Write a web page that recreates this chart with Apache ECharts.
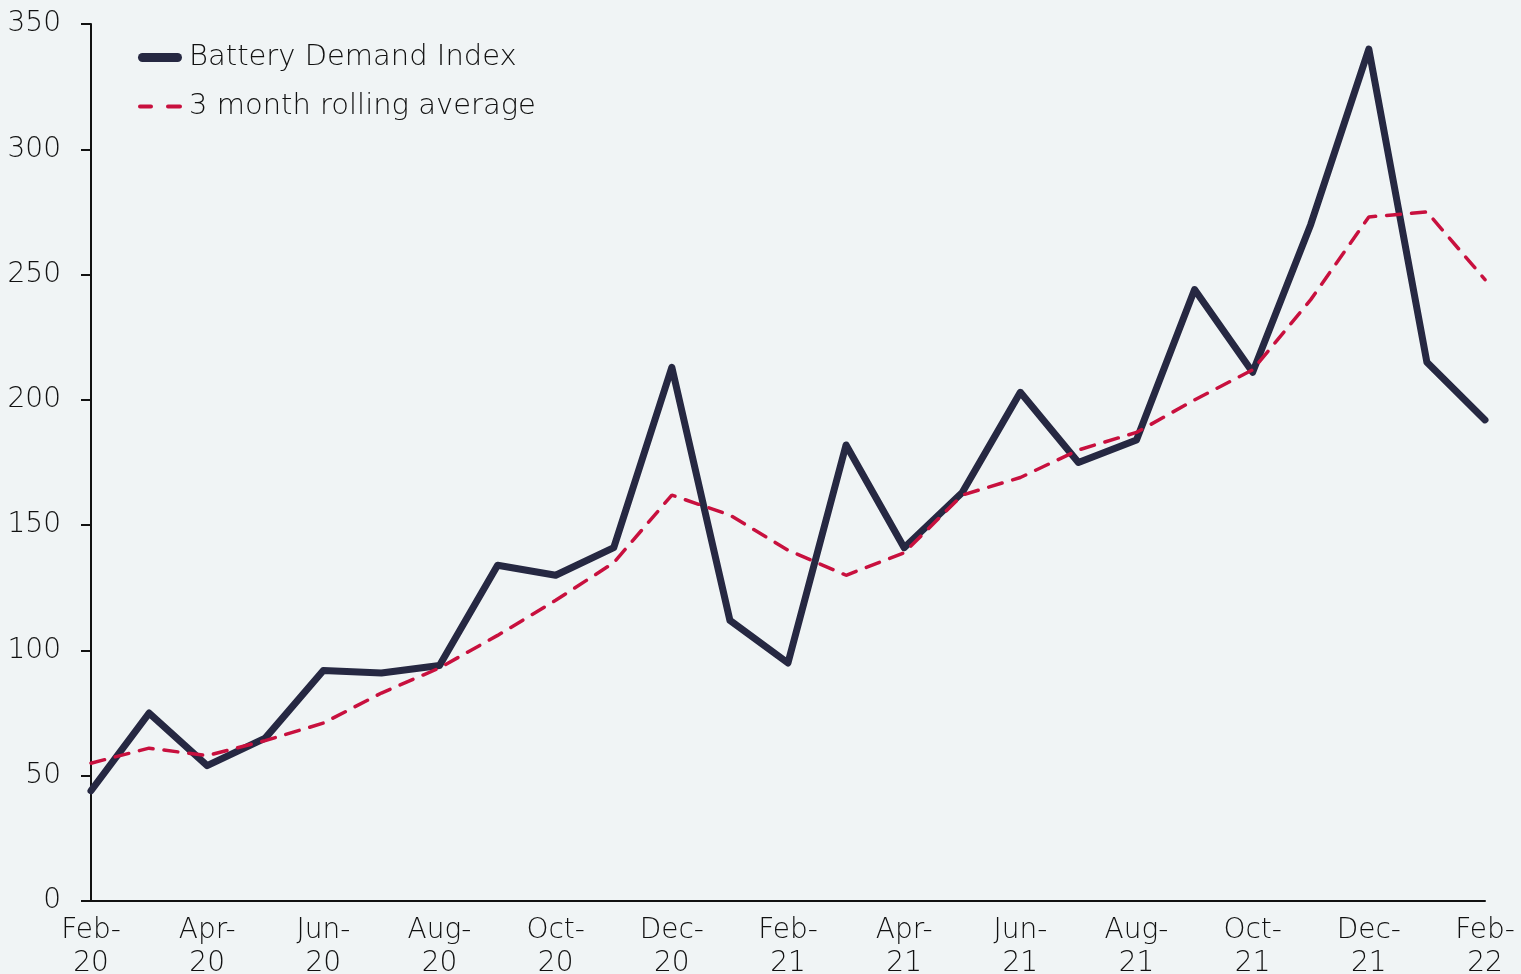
<!DOCTYPE html>
<html>
<head>
<meta charset="utf-8">
<script src="https://cdn.jsdelivr.net/npm/echarts@6/dist/echarts.min.js"></script>
<style>
  html, body { margin: 0; padding: 0; background: #f0f4f5; }
  #chart { width: 1521px; height: 974px; }
</style>
</head>
<body>
<div id="chart"></div>
<script>
const months = [
  "Feb-20", "Mar-20", "Apr-20", "May-20", "Jun-20", "Jul-20", "Aug-20", "Sep-20", "Oct-20",
  "Nov-20", "Dec-20", "Jan-21", "Feb-21", "Mar-21", "Apr-21", "May-21", "Jun-21", "Jul-21",
  "Aug-21", "Sep-21", "Oct-21", "Nov-21", "Dec-21", "Jan-22", "Feb-22"
];
// Battery Demand Index
const demandIndex = [44, 75, 54, 65, 92, 91, 94, 134, 130, 141, 213, 112, 95, 182, 141, 163, 203, 175, 184, 244, 211, 270, 340, 215, 192];
// 3 month rolling average
const rollingAvg = [55, 61, 58, 64, 71, 83, 93, 106, 120, 135, 162, 154, 140, 130, 139, 162, 169, 180, 187, 200, 212, 240, 273, 275, 248];

const font = "DejaVu Sans";
const textColor = "#111";
const navy = "#262842";
const red = "#c8103e";

const chart = echarts.init(document.getElementById("chart"));
chart.setOption({
  backgroundColor: "#f0f4f5",
  animation: false,
  textStyle: { fontFamily: font },
  grid: { left: 91, right: 36, top: 24, bottom: 73, outerBoundsMode: "none", containLabel: false },
  legend: {
    orient: "vertical",
    left: 133,
    top: 38,
    itemWidth: 44,
    itemHeight: 9,
    itemGap: 20,
    textStyle: { fontSize: 29, color: textColor, fontWeight: 200, fontFamily: font, padding: [0, 0, 0, 2] },
    data: [
      {
        name: "Battery Demand Index",
        icon: "path://M4.5,0H39.5A4.5,4.5,0,0,1,39.5,9H4.5A4.5,4.5,0,0,1,4.5,0Z",
        itemStyle: { color: navy }
      },
      {
        name: "3 month rolling average",
        icon: "path://M2,2.5H13A2,2,0,0,1,13,6.5H2A2,2,0,0,1,2,2.5Z M30,2.5H42A2,2,0,0,1,42,6.5H30A2,2,0,0,1,30,2.5Z M0,0H0.01V0.01H0Z M43.99,8.99H44V9H43.99Z",
        itemStyle: { color: red }
      }
    ]
  },
  xAxis: {
    type: "category",
    data: months,
    boundaryGap: false,
    axisLine: { lineStyle: { color: "#111", width: 2 } },
    axisTick: { show: false },
    axisLabel: {
      interval: 1,
      margin: 13,
      fontSize: 28,
      lineHeight: 33,
      color: textColor,
      fontWeight: 200,
      formatter: v => v.replace("-", "-\n")
    }
  },
  yAxis: {
    type: "value",
    min: 0,
    max: 350,
    interval: 50,
    axisLine: { show: true, lineStyle: { color: "#111", width: 2 } },
    axisTick: { show: true, length: 10, lineStyle: { color: "#111", width: 2 } },
    splitLine: { show: false },
    axisLabel: { fontSize: 28, color: textColor, fontWeight: 200, margin: 30 }
  },
  series: [
    {
      name: "Battery Demand Index",
      type: "line",
      data: demandIndex,
      symbol: "none",
      lineStyle: { color: navy, width: 7, cap: "round", join: "round" },
      itemStyle: { color: navy },
      z: 2
    },
    {
      name: "3 month rolling average",
      type: "line",
      data: rollingAvg,
      symbol: "none",
      lineStyle: { color: red, width: 3.5, type: [14, 11], cap: "round" },
      itemStyle: { color: red },
      z: 3
    }
  ]
});
</script>
</body>
</html>
